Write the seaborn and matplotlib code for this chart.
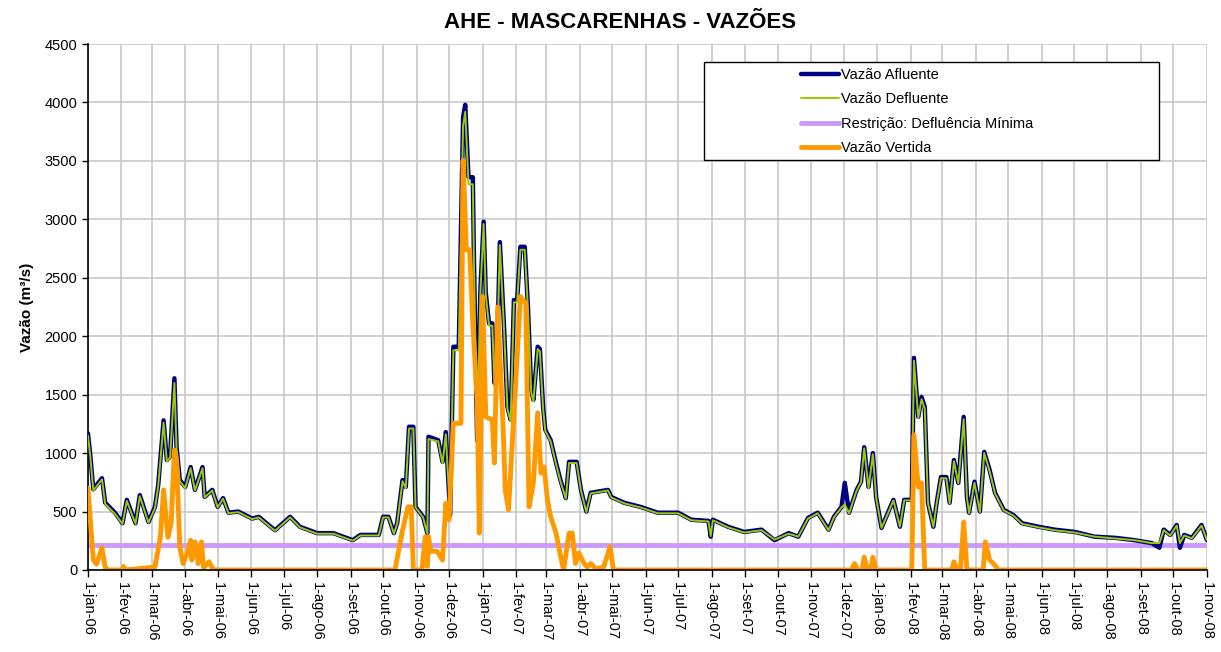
import numpy as np
import pandas as pd
import matplotlib
matplotlib.use("Agg")
import matplotlib.pyplot as plt
from matplotlib.patches import Rectangle
from matplotlib.lines import Line2D
import seaborn as sns

START = "2006-01-01"

# --- Vazão Afluente (day offset from 1-jan-06, m3/s) ---
afl_day = [0, 2, 5, 13, 16, 25, 32, 36, 44, 48, 56, 62, 65, 70, 73, 76, 80, 82, 85, 90,
           95, 99, 106, 108, 115, 120, 125, 130, 139, 152, 158, 173, 187, 196, 212, 227, 245, 252, 269, 273,
           278, 283, 286, 291, 294, 297, 301, 303, 310, 314, 315, 324, 328, 331, 335, 338, 343, 347, 349, 352,
           356, 357, 360, 363, 366, 368, 371, 374, 376, 378, 381, 385, 388, 391, 394, 397, 400, 404, 407, 410,
           412, 416, 418, 421, 423, 428, 433, 437, 442, 445, 452, 456, 461, 465, 481, 484, 496, 511, 527, 546,
           558, 574, 576, 578, 592, 607, 623, 635, 648, 657, 666, 675, 685, 690, 697, 700, 704, 711, 715, 718,
           722, 726, 729, 734, 740, 745, 751, 755, 762, 764, 768, 771, 774, 777, 782, 785, 789, 794, 797, 801,
           805, 810, 813, 815, 820, 825, 829, 834, 839, 847, 856, 864, 879, 894, 913, 931, 950, 968, 984, 991,
           995, 1001, 1007, 1010, 1014, 1021, 1030, 1035]
afl_val = [1170, 1000, 690, 785, 575, 490, 400, 600, 400, 640, 410, 540, 725, 1280, 940, 970, 1640, 1050, 770, 710,
           880, 685, 880, 625, 685, 540, 615, 490, 500, 440, 455, 340, 455, 370, 315, 315, 255, 300, 300, 455,
           455, 315, 400, 770, 710, 1225, 1225, 540, 455, 315, 1140, 1110, 925, 1180, 470, 1910, 1910, 3875, 3980, 3360,
           3360, 2680, 1110, 2395, 2980, 2370, 2110, 2110, 1600, 1685, 2805, 2055, 1395, 1285, 2310, 2310, 2765, 2765, 2250, 1540,
           1455, 1910, 1890, 1395, 1200, 1110, 915, 770, 615, 925, 925, 685, 500, 660, 685, 625, 575, 540, 490, 490,
           430, 420, 285, 430, 370, 325, 345, 255, 315, 285, 445, 490, 345, 455, 540, 745, 490, 685, 755, 1050,
           710, 1000, 625, 360, 490, 600, 370, 600, 600, 1815, 1310, 1480, 1395, 575, 370, 575, 795, 795, 575, 940,
           745, 1310, 625, 490, 755, 500, 1010, 855, 660, 515, 470, 400, 370, 345, 325, 285, 275, 255, 230, 190,
           345, 300, 385, 190, 300, 275, 385, 255]

# --- Vazão Defluente (same dates, m3/s) ---
def_val = [1150, 990, 680, 775, 565, 480, 395, 590, 395, 630, 405, 530, 715, 1260, 930, 960, 1600, 1040, 760, 700,
           870, 680, 870, 620, 680, 535, 610, 485, 495, 435, 450, 335, 450, 365, 310, 310, 250, 295, 295, 450,
           450, 310, 395, 760, 700, 1210, 1210, 535, 450, 310, 1120, 1100, 910, 1160, 465, 1880, 1880, 3800, 3920, 3300,
           3300, 2650, 1100, 2380, 2960, 2350, 2090, 2090, 1580, 1670, 2780, 2030, 1380, 1270, 2290, 2290, 2740, 2740, 2230, 1520,
           1440, 1890, 1870, 1380, 1190, 1100, 905, 760, 610, 915, 915, 680, 495, 655, 680, 620, 570, 535, 485, 485,
           425, 415, 290, 425, 365, 320, 340, 260, 310, 285, 440, 485, 340, 450, 535, 560, 485, 680, 750, 1040,
           700, 990, 620, 360, 485, 595, 370, 595, 595, 1790, 1300, 1460, 1380, 570, 370, 570, 785, 785, 570, 930,
           740, 1290, 620, 485, 745, 495, 1000, 845, 655, 510, 465, 395, 365, 340, 320, 285, 270, 255, 230, 230,
           340, 295, 380, 230, 295, 270, 380, 255]

# --- Vazão Vertida (m3/s) ---
ver_day = [0, 5, 8, 13, 16, 19, 32, 33, 35, 62, 67, 70, 74, 77, 80, 82, 85, 88, 92, 95,
           96, 99, 102, 105, 107, 112, 116, 284, 291, 296, 299, 301, 309, 312, 314, 315, 317, 323, 328, 331,
           334, 338, 345, 347, 350, 353, 356, 360, 362, 365, 368, 374, 376, 379, 384, 386, 389, 393, 396, 400,
           405, 408, 412, 416, 419, 422, 425, 428, 433, 436, 440, 445, 448, 451, 454, 459, 462, 465, 470, 477,
           483, 486, 706, 709, 712, 716, 718, 721, 724, 726, 729, 762, 764, 768, 771, 774, 799, 801, 804, 807,
           810, 813, 828, 830, 834, 839, 842, 1035]
ver_val = [700, 85, 50, 190, 20, 0, 0, 30, 0, 25, 280, 685, 280, 400, 1025, 940, 200, 55, 145, 255,
           85, 240, 55, 240, 20, 70, 0, 0, 340, 540, 540, 0, 0, 285, 30, 285, 160, 160, 85, 570,
           430, 1255, 1255, 3505, 2740, 2740, 2110, 1455, 315, 2340, 1310, 1285, 915, 2250, 1225, 685, 515, 1170, 1650, 2340,
           2280, 540, 745, 1345, 830, 880, 600, 455, 315, 170, 0, 315, 315, 55, 145, 55, 25, 55, 10, 25,
           200, 0, 0, 55, 0, 0, 110, 0, 0, 110, 0, 0, 1155, 710, 745, 0, 0, 70, 0, 0,
           410, 0, 0, 240, 85, 40, 0, 0]

# --- Restrição: Defluência Mínima ---
res_dates = ["2006-01-01", "2008-11-01"]
res_val = [210, 210]

pt_months = ["jan", "fev", "mar", "abr", "mai", "jun", "jul", "ago", "set", "out", "nov", "dez"]

t0 = pd.Timestamp(START)
afl = pd.DataFrame({"data": t0 + pd.to_timedelta(afl_day, unit="D"), "vazao": afl_val})
dfl = pd.DataFrame({"data": t0 + pd.to_timedelta(afl_day, unit="D"), "vazao": def_val})
ver = pd.DataFrame({"data": t0 + pd.to_timedelta(ver_day, unit="D"), "vazao": ver_val})
res = pd.DataFrame({"data": pd.to_datetime(res_dates), "vazao": res_val})

sns.set_theme(style="white")
plt.rcParams["font.family"] = ["Liberation Sans", "DejaVu Sans"]
plt.rcParams["text.color"] = "black"
plt.rcParams["axes.labelcolor"] = "black"
plt.rcParams["xtick.color"] = "black"
plt.rcParams["ytick.color"] = "black"

fig = plt.figure(figsize=(12.21, 6.52), dpi=100)
ax = fig.add_axes([0.072, 0.1258, 0.9165, 0.8067])

c_afl = "#000080"
c_def = "#99CC00"
c_res = "#CC99FF"
c_ver = "#FF9900"

sns.lineplot(data=afl, x="data", y="vazao", ax=ax, color=c_afl, lw=3.2, estimator=None, sort=False, zorder=3)
sns.lineplot(data=dfl, x="data", y="vazao", ax=ax, color=c_def, lw=1.4, estimator=None, sort=False, zorder=4)
sns.lineplot(data=res, x="data", y="vazao", ax=ax, color=c_res, lw=3.5, estimator=None, sort=False, zorder=2)
sns.lineplot(data=ver, x="data", y="vazao", ax=ax, color=c_ver, lw=3.5, estimator=None, sort=False, zorder=5)

ax.set_xlim(pd.Timestamp("2006-01-01"), pd.Timestamp("2008-11-01"))
ax.set_ylim(0, 4500)
ax.set_yticks(np.arange(0, 4501, 500))

ticks = pd.date_range("2006-01-01", "2008-11-01", freq="MS")
ax.set_xticks(ticks)
ax.set_xticklabels([f"1-{pt_months[d.month-1]}-{d.strftime('%y')}" for d in ticks],
                   rotation=-90, fontsize=10.5)
ax.tick_params(axis="y", labelsize=10.5, length=4, width=1, color="black", direction="out", left=True,
               labelcolor="black")
ax.tick_params(axis="x", length=5, width=1, color="black", direction="out", bottom=True, pad=4,
               labelcolor="black")

ax.grid(True, color="#C8C8C8", lw=1.2)
ax.set_axisbelow(True)
for s in ["top", "right"]:
    ax.spines[s].set_visible(False)
for s in ["left", "bottom"]:
    ax.spines[s].set_color("black")
    ax.spines[s].set_linewidth(1.2)
ax.spines["bottom"].set_zorder(6)

ax.set_xlabel("")
ax.set_ylabel("Vazão (m³/s)", fontsize=11, fontweight="bold", labelpad=8, color="black")
fig.suptitle("AHE - MASCARENHAS - VAZÕES", fontsize=16, fontweight="bold", x=0.508, y=0.982, color="black")

# legend frame and entries
ax.add_patch(Rectangle((0.5505, 0.7795), 0.4065, 0.1865, transform=ax.transAxes,
                       facecolor="white", edgecolor="black", lw=1, zorder=7))
handles = [Line2D([], [], color=c_afl, lw=3.2), Line2D([], [], color=c_def, lw=1.4),
           Line2D([], [], color=c_res, lw=3.5), Line2D([], [], color=c_ver, lw=3.5)]
labels = ["Vazão Afluente", "Vazão Defluente", "Restrição: Defluência Mínima", "Vazão Vertida"]
leg = ax.legend(handles, labels, loc="upper left", bbox_to_anchor=(0.628, 0.974), frameon=False,
                fontsize=10.5, handlelength=2.6, handletextpad=0.15, labelspacing=0.72, borderpad=0.2)
for t in leg.get_texts():
    t.set_color("black")
leg.set_zorder(8)

fig.savefig("out.png", dpi=100)
